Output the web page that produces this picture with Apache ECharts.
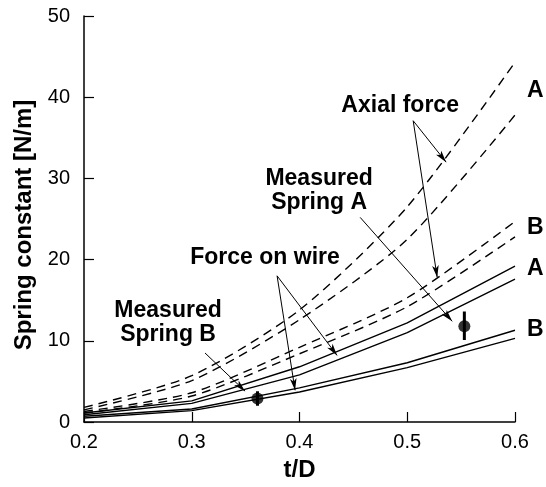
<!DOCTYPE html>
<html>
<head>
<meta charset="utf-8">
<script src="https://cdn.jsdelivr.net/npm/echarts@6/dist/echarts.min.js"></script>
<style>
  html, body { margin: 0; padding: 0; background: #fff; }
  #chart { width: 546px; height: 487px; }
</style>
</head>
<body>
<div id="chart"></div>
<script>
// t/D sample points
const tD = [0.2, 0.3, 0.4, 0.5, 0.6];

// axial force (dashed), spring A pair and spring B pair
const axialA1 = [1.8, 5.7, 13.8, 26.5, 44.3];
const axialA2 = [1.5, 5.1, 12.6, 22.5, 37.8];
const axialB1 = [1.3, 3.6, 9.2, 15.3, 24.7];
const axialB2 = [1.1, 3.2, 8.4, 14.2, 22.8];

// force on wire (solid), spring A pair and spring B pair
const wireA1 = [1.1, 2.6, 6.8, 12.2, 19.2];
const wireA2 = [0.9, 2.3, 5.8, 11.0, 17.6];
const wireB1 = [0.7, 1.6, 4.2, 7.3, 11.3];
const wireB2 = [0.5, 1.4, 3.7, 6.7, 10.3];

// measured springs B and A, with error bars
const measT = [0.361, 0.553];
const measK = [2.9, 11.8];
const errLow = [2.0, 10.1];
const errHigh = [3.8, 13.6];

const xTicks = ['0.2', '0.3', '0.4', '0.5', '0.6'];

// annotation anchors (data coords)
const arrows = [
  [[0.5055, 37.1], [0.5361, 32.0]],   // Axial force -> A
  [[0.5055, 37.1], [0.5278, 17.8]],   // Axial force -> B
  [[0.4563, 25.2], [0.5417, 12.4]],   // Measured Spring A
  [[0.3792, 18.0], [0.3959, 3.9]],    // Force on wire -> B
  [[0.3792, 18.0], [0.4349, 8.2]],    // Force on wire -> A
  [[0.3123, 8.5], [0.3495, 3.8]],     // Measured Spring B
];
const notes = [
  { text: 'Axial force', at: [0.4934, 38.9] },
  { text: 'Measured\nSpring A', at: [0.4182, 28.5] },
  { text: 'Force on wire', at: [0.368, 20.3] },
  { text: 'Measured\nSpring B', at: [0.278, 12.2] },
  { text: 'A', at: [0.6188, 40.8] },
  { text: 'B', at: [0.6188, 23.9] },
  { text: 'A', at: [0.6188, 18.9] },
  { text: 'B', at: [0.6188, 11.4] },
];

const FONT = "'Liberation Sans', Arial, Helvetica, sans-serif";
const zip = (ys) => tD.map((t, i) => [t, ys[i]]);

function curve(ys, dashed) {
  return {
    type: 'line',
    data: zip(ys),
    showSymbol: false,
    silent: true,
    smooth: dashed ? 0.25 : false,
    lineStyle: { color: '#000', width: 1.4, type: dashed ? [9, 6] : 'solid' },
  };
}

const chart = echarts.init(document.getElementById('chart'));

const errSeries = measT.map((t, i) => ({
  type: 'line',
  data: [[t, errLow[i]], [t, errHigh[i]]],
  showSymbol: false,
  silent: true,
  lineStyle: { color: '#000', width: 3 },
}));

chart.setOption({
  animation: false,
  backgroundColor: '#fff',
  grid: { left: 84, right: 31, top: 16, bottom: 57.5 },
  xAxis: {
    type: 'value', min: 0.2, max: 0.6, interval: 0.1,
    name: 't/D', nameLocation: 'middle', nameGap: 36,
    nameTextStyle: { fontFamily: FONT, fontWeight: 'bold', fontSize: 24, color: '#000' },
    axisLine: { lineStyle: { color: '#000', width: 1.5 } },
    axisTick: { inside: true, length: 10, lineStyle: { color: '#000', width: 1.2 } },
    axisLabel: { fontFamily: FONT, fontSize: 20, color: '#000', margin: 10,
      formatter: (v) => xTicks[Math.round((v - 0.2) * 10)] },
    splitLine: { show: false },
  },
  yAxis: {
    type: 'value', min: 0, max: 50, interval: 10,
    name: 'Spring constant [N/m]', nameLocation: 'middle', nameGap: 45,
    nameTextStyle: { fontFamily: FONT, fontWeight: 'bold', fontSize: 24, color: '#000',
      padding: [0, 12, 0, 0] },
    axisLine: { show: true, lineStyle: { color: '#000', width: 1.5 } },
    axisTick: { show: true, inside: true, length: 10, lineStyle: { color: '#000', width: 1.2 } },
    axisLabel: { fontFamily: FONT, fontSize: 20, color: '#000', margin: 14 },
    splitLine: { show: false },
  },
  series: [
    curve(axialA1, true), curve(axialA2, true), curve(axialB1, true), curve(axialB2, true),
    curve(wireA1, false), curve(wireA2, false), curve(wireB1, false), curve(wireB2, false),
    ...errSeries,
    {
      type: 'scatter',
      data: measT.map((t, i) => [t, measK[i]]),
      symbol: 'circle', symbolSize: 12,
      itemStyle: { color: '#000' },
      silent: true,
      markLine: {
        silent: true,
        animation: false,
        lineStyle: { color: '#000', width: 1, type: 'solid' },
        label: { show: false },
        data: arrows.map(([a, b]) => [
          { coord: a, symbol: 'none' },
          { coord: b, symbol: 'arrow', symbolSize: [5, 12] },
        ]),
      },
    },
  ],
});

// text annotations placed through the axes' scales
chart.setOption({
  graphic: notes.map((n) => {
    const p = chart.convertToPixel({ gridIndex: 0 }, n.at);
    return {
      type: 'text', x: p[0], y: p[1], silent: true,
      style: {
        text: n.text, fill: '#000', align: 'center', verticalAlign: 'middle',
        font: 'bold 23px ' + FONT, lineHeight: 24,
      },
    };
  }),
});
</script>
</body>
</html>
